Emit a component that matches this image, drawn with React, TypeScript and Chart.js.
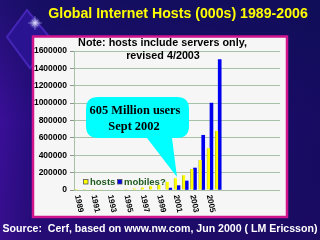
import React, { useEffect, useRef } from 'react';
import { Chart, registerables } from 'chart.js';

Chart.register(...registerables);

// ---- data ----
const years = ['1989', '1990', '1991', '1992', '1993', '1994', '1995', '1996', '1997', '1998', '1999', '2000', '2001', '2002', '2003', '2004', '2005', '2006'];
const blankSlots = ['', '', '', '', '', '', ''];
const hosts = [100, 400, 800, 1500, 5000, 8000, 12000, 18000, 28000, 42000, 58000, 95000, 135000, 170000, 241000, 345000, 480000, 678000];
const mobiles = [null, null, null, null, null, null, null, null, null, null, null, 22000, 50000, 104000, 253000, 630000, 1000000, 1500000];
const yMax = 1600000;
const yStep = 200000;
const titleText = 'Global Internet Hosts (000s) 1989-2006';
const noteLines = ['Note: hosts include servers only,', 'revised 4/2003'];
const sourceText = 'Source:  Cerf, based on www.nw.com, Jun 2000 ( LM Ericsson)';
const calloutLines = ['605 Million users', 'Sept 2002'];
const calloutTipYear = '2001';
const calloutTipValue = 150000;
const legendNames = ['hosts', 'mobiles?'];
const seriesColors = ['#ffff00', '#0000ee'];

const SANS = 'Arial, "Liberation Sans", sans-serif';

function fitText(ctx: any, text: string, width: number, base: number, weight: string, family: string) {
  ctx.font = `${weight} ${base}px ${family}`;
  const w = ctx.measureText(text).width;
  const size = (base * width) / w;
  ctx.font = `${weight} ${size}px ${family}`;
}

const decorPlugin = {
  id: 'decor',
  beforeDraw(chart: any) {
    const ctx = chart.ctx;
    ctx.save();
    // background
    const g = ctx.createLinearGradient(0, 0, 320, 0);
    g.addColorStop(0, '#3a0f98');
    g.addColorStop(0.12, '#240c7a');
    g.addColorStop(1, '#170b62');
    ctx.fillStyle = g;
    ctx.fillRect(0, 0, 320, 240);
    const g2 = ctx.createLinearGradient(0, 0, 0, 240);
    g2.addColorStop(0, 'rgba(10,16,80,0.55)');
    g2.addColorStop(0.5, 'rgba(10,16,80,0)');
    g2.addColorStop(1, 'rgba(40,10,90,0.2)');
    ctx.fillStyle = g2;
    ctx.fillRect(0, 0, 320, 240);
    // diamond decoration
    ctx.beginPath();
    ctx.moveTo(27, 10);
    ctx.lineTo(7, 37);
    ctx.lineTo(30, 68);
    ctx.lineTo(52, 40);
    ctx.closePath();
    ctx.fillStyle = '#2a1390';
    ctx.fill();
    ctx.lineWidth = 2;
    ctx.strokeStyle = '#4526b8';
    ctx.stroke();
    // sparkle
    const sx = 35, sy = 23;
    const rg = ctx.createRadialGradient(sx, sy, 0, sx, sy, 6);
    rg.addColorStop(0, 'rgba(255,255,255,0.95)');
    rg.addColorStop(0.5, 'rgba(190,190,240,0.5)');
    rg.addColorStop(1, 'rgba(150,150,255,0)');
    ctx.fillStyle = rg;
    ctx.beginPath();
    ctx.arc(sx, sy, 6, 0, Math.PI * 2);
    ctx.fill();
    ctx.strokeStyle = 'rgba(210,210,250,0.55)';
    ctx.lineWidth = 0.8;
    for (let k = 0; k < 8; k++) {
      const a = (k * Math.PI) / 4;
      const len = k % 2 === 0 ? 7 : 4;
      ctx.beginPath();
      ctx.moveTo(sx, sy);
      ctx.lineTo(sx + Math.cos(a) * len, sy + Math.sin(a) * len);
      ctx.stroke();
    }
    // panel
    ctx.fillStyle = '#f6f6f6';
    ctx.fillRect(33, 36.5, 254, 180.5);
    ctx.lineWidth = 2.5;
    ctx.strokeStyle = '#d0148e';
    ctx.strokeRect(33, 36.5, 254, 180.5);
    // title
    ctx.fillStyle = '#ffff00';
    ctx.textAlign = 'center';
    ctx.textBaseline = 'middle';
    fitText(ctx, titleText, 260, 13, 'bold', SANS);
    ctx.fillText(titleText, 178, 14);
    // source
    ctx.fillStyle = '#ffffff';
    fitText(ctx, sourceText, 315, 11, 'bold', SANS);
    ctx.fillText(sourceText, 160, 229);
    ctx.restore();
  },
  afterDatasetsDraw(chart: any) {
    const ctx = chart.ctx;
    const xs = chart.scales.x;
    const ys = chart.scales.y;
    const tipX = xs.getPixelForValue(years.indexOf(calloutTipYear));
    const tipY = ys.getPixelForValue(calloutTipValue);
    const L = 86, T = 97, R = 189, B = 138, r = 12;
    ctx.save();
    ctx.beginPath();
    ctx.moveTo(L + r, T);
    ctx.lineTo(R - r, T);
    ctx.quadraticCurveTo(R, T, R, T + r);
    ctx.lineTo(R, B - r);
    ctx.quadraticCurveTo(R, B, R - r, B);
    ctx.lineTo(172, B);
    ctx.lineTo(tipX, tipY);
    ctx.lineTo(147, B);
    ctx.lineTo(L + r, B);
    ctx.quadraticCurveTo(L, B, L, B - r);
    ctx.lineTo(L, T + r);
    ctx.quadraticCurveTo(L, T, L + r, T);
    ctx.closePath();
    ctx.fillStyle = '#00ffff';
    ctx.fill();
    ctx.fillStyle = '#000';
    ctx.textAlign = 'center';
    ctx.textBaseline = 'middle';
    fitText(ctx, calloutLines[0], 91, 13, 'bold', '"Times New Roman", "Liberation Serif", serif');
    ctx.fillText(calloutLines[0], 135, 111);
    ctx.fillText(calloutLines[1], 134, 127);
    ctx.restore();
  },
  afterDraw(chart: any) {
    const ctx = chart.ctx;
    const xs = chart.scales.x;
    ctx.save();
    // note
    ctx.fillStyle = '#000';
    ctx.textAlign = 'center';
    ctx.textBaseline = 'middle';
    fitText(ctx, noteLines[0], 169, 10, 'bold', SANS);
    ctx.fillText(noteLines[0], 162.5, 43);
    ctx.fillText(noteLines[1], 163, 56);
    // x labels rotated clockwise
    ctx.font = `bold 8px ${SANS}`;
    ctx.textAlign = 'left';
    years.forEach((yr, i) => {
      if (i % 2 !== 0) return;
      const x = xs.getPixelForValue(i);
      ctx.save();
      ctx.translate(x - 1, 195);
      ctx.rotate((78 * Math.PI) / 180);
      ctx.fillText(yr, 0, 0);
      ctx.restore();
    });
    // legend
    ctx.font = `bold 9.5px ${SANS}`;
    ctx.textBaseline = 'middle';
    const items = [
      { x: 83.5, tx: 90 },
      { x: 117.5, tx: 124 },
    ];
    items.forEach((it, i) => {
      ctx.fillStyle = seriesColors[i];
      ctx.fillRect(it.x, 179.5, 4.5, 4.5);
      ctx.strokeStyle = '#555';
      ctx.lineWidth = 0.8;
      ctx.strokeRect(it.x, 179.5, 4.5, 4.5);
      ctx.fillStyle = '#1e5a1e';
      ctx.fillText(legendNames[i], it.tx, 182);
    });
    ctx.restore();
  },
};

export default function App() {
  const ref = useRef<HTMLCanvasElement | null>(null);
  useEffect(() => {
    if (!ref.current) return;
    const chart = new Chart(ref.current, {
      type: 'bar',
      data: {
        labels: [...years, ...blankSlots],
        datasets: [
          {
            label: legendNames[0],
            data: hosts,
            backgroundColor: seriesColors[0],
            borderColor: '#9a9a30',
            borderWidth: { left: 0.6, right: 0, top: 0, bottom: 0 },
            barThickness: 3,
          },
          {
            label: legendNames[1],
            data: mobiles,
            backgroundColor: seriesColors[1],
            borderWidth: 0,
            barThickness: 3,
          },
        ],
      },
      options: {
        responsive: false,
        animation: false,
        layout: { padding: { left: 34, right: 40, top: 51, bottom: 50 } },
        plugins: {
          legend: { display: false },
          tooltip: { enabled: false },
          title: { display: false },
        },
        scales: {
          x: { display: false },
          y: {
            min: 0,
            max: yMax,
            ticks: {
              stepSize: yStep,
              color: '#000',
              padding: 3,
              font: { family: SANS, size: 8.5, weight: 'bold' },
              callback: (v: any) => String(v),
            },
            grid: { color: '#a8c2a8', tickLength: 4, tickColor: '#8a9a8a' },
            border: { color: '#a8c2a8' },
            afterFit: (s: any) => {
              s.width = 40;
            },
          },
        },
      },
      plugins: [decorPlugin],
    });
    return () => chart.destroy();
  }, []);
  return (
    <div style={{ position: 'fixed', left: 0, top: 0, width: 320, height: 240 }}>
      <canvas ref={ref} width={320} height={240} style={{ width: 320, height: 240, display: 'block' }} />
    </div>
  );
}
